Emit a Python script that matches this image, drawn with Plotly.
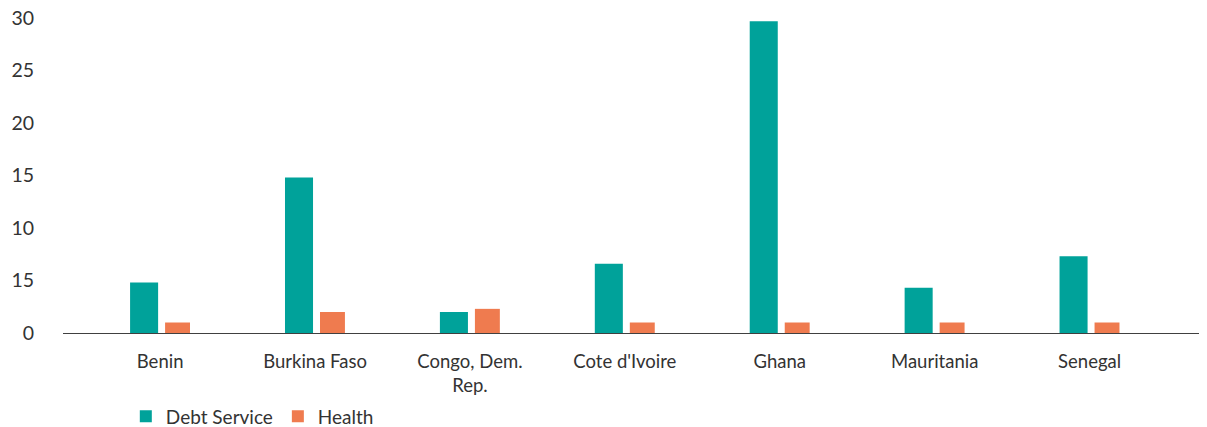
import plotly.graph_objects as go

categories = ["Benin", "Burkina Faso", "Congo, Dem.<br>Rep.", "Cote d'Ivoire",
              "Ghana", "Mauritania", "Senegal"]
debt_service = [4.8, 14.8, 2.0, 6.6, 29.7, 4.3, 7.3]
health = [1.0, 2.0, 2.3, 1.0, 1.0, 1.0, 1.0]
y_tickvals = [0, 5, 10, 15, 20, 25, 30]
y_ticktext = ["0", "15", "10", "15", "20", "25", "30"]

xpos = list(range(len(categories)))
font_family = "Lato, 'Open Sans', sans-serif"

fig = go.Figure()
fig.add_trace(go.Bar(x=xpos, y=debt_service, name="Debt Service",
                     marker=dict(color="#00A29A", line=dict(width=0)),
                     width=0.181, offset=-0.194))
fig.add_trace(go.Bar(x=xpos, y=health, name="Health",
                     marker=dict(color="#EF7B4F", line=dict(width=0)),
                     width=0.161, offset=0.032))

fig.update_layout(
    width=1207, height=427,
    margin=dict(l=55, r=10, t=10, b=101.5, autoexpand=False),
    plot_bgcolor="white", paper_bgcolor="white",
    barmode="overlay",
    font=dict(family=font_family, size=18, color="#333333"),
    showlegend=True,
    legend=dict(orientation="h", x=0.055, xanchor="left", y=-0.265, yanchor="middle",
                font=dict(size=19, color="#333333"), itemwidth=30,
                traceorder="normal"),
    xaxis=dict(tickmode="array", tickvals=xpos, ticktext=categories,
               range=[-0.627, 6.745], showgrid=False, zeroline=False,
               showline=True, linecolor="#404040", linewidth=1.3,
               ticks="", ticklabelstandoff=12, tickfont=dict(size=18.5),
               automargin=False),
    yaxis=dict(tickmode="array", tickvals=y_tickvals, ticktext=y_ticktext,
               range=[0, 30], showgrid=False, zeroline=False, showline=False,
               ticks="", ticklabelstandoff=28, tickfont=dict(size=19.5),
               ticklabeloverflow="allow", automargin=False),
)

fig.write_html("out.html")
